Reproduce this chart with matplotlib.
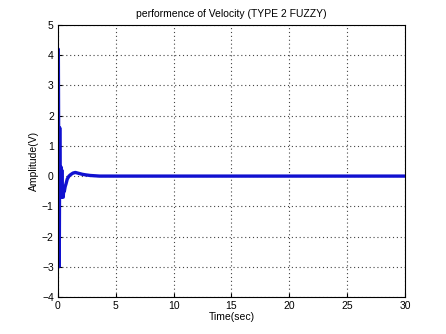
import numpy as np
from matplotlib import pyplot as plt

plt.rcParams['font.family'] = ['Liberation Sans', 'DejaVu Sans']

# response
time = [0.0, 0.03, 0.06, 0.09, 0.12, 0.15, 0.18, 0.21, 0.24, 0.27, 0.30, 0.33,
        0.36, 0.40, 0.45, 0.50, 0.55, 0.62, 0.70, 0.80, 0.95, 1.10, 1.30,
        1.50, 1.70, 1.90, 2.10, 2.40, 2.80, 3.20, 3.60, 4.0, 6.0, 10.0,
        15.0, 20.0, 25.0, 30.0]
amp = [0.0, 4.2, 1.0, -3.0, -2.0, 1.6, -0.7, 0.3, -0.6, 0.3, -0.7, 0.2,
       -0.6, -0.5, -0.7, -0.45, -0.5, -0.35, -0.25, -0.1, 0.0, 0.05, 0.1,
       0.12, 0.1, 0.08, 0.06, 0.04, 0.02, 0.01, 0.0, 0.0, 0.0, 0.0,
       0.0, 0.0, 0.0, 0.0]

fig = plt.figure(figsize=(4.46, 3.34), dpi=100)
ax = fig.add_axes([0.130, 0.111, 0.778, 0.814])

ax.plot(time, amp, color='#1010d0', linewidth=2.4)

ax.set_xlim(0, 30)
ax.set_ylim(-4, 5)
ax.set_xticks(np.arange(0, 31, 5))
ax.set_yticks(np.arange(-4, 6, 1))
ax.grid(True, color='#444444', linestyle=(0, (1, 2.5)), linewidth=0.8)
ax.tick_params(labelsize=7.5, direction='in', length=3, pad=3)

ax.set_xlabel('Time(sec)', fontsize=7.5, labelpad=1)
ax.set_ylabel('Amplitude(V)', fontsize=7.5, labelpad=2)
ax.set_title('performence of Velocity (TYPE 2 FUZZY)', fontsize=7.5, pad=6)

fig.savefig('out.png', dpi=100)
